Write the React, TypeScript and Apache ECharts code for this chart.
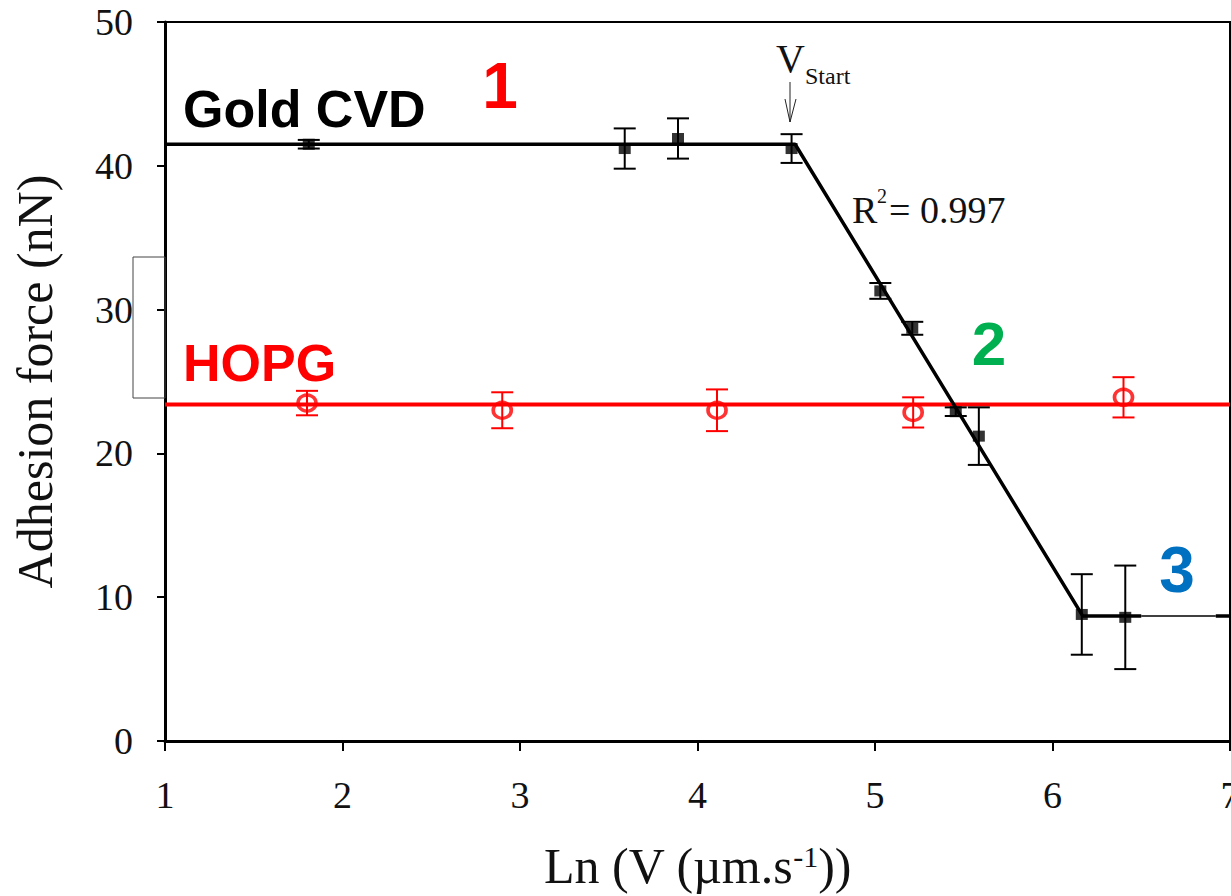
import React, { useEffect, useRef } from "react";
import * as echarts from "echarts";

// Gold CVD measurements (black squares)
const goldX = [1.81, 3.59, 3.89, 4.53, 5.03, 5.21, 5.455, 5.585, 6.165, 6.41];
const goldY = [41.5, 41.2, 41.9, 41.2, 31.3, 28.7, 22.9, 21.2, 8.8, 8.6];
const goldErr = [0.3, 1.4, 1.4, 1.0, 0.55, 0.45, 0.3, 2.0, 2.8, 3.6];

// HOPG measurements (red open circles)
const hopgX = [1.8, 2.9, 4.11, 5.215, 6.4];
const hopgY = [23.5, 23.0, 23.0, 22.85, 23.9];
const hopgErr = [0.85, 1.25, 1.45, 1.05, 1.4];

// Fit lines
const goldFitX = [1, 4.55, 6.17, 6.5];
const goldFitY = [41.5, 41.5, 8.7, 8.7];
const goldThinX = [6.5, 6.92];
const goldThinY = [8.7, 8.7];
const goldEndX = [6.92, 7];
const goldEndY = [8.7, 8.7];
const hopgFitX = [1, 7];
const hopgFitY = [23.4, 23.4];

const SERIF = "'Liberation Serif', 'Times New Roman', serif";
const SANS = "'Liberation Sans', Arial, sans-serif";

const zip = (xs: number[], ys: number[]) => xs.map((x, i) => [x, ys[i]]);
const zip3 = (xs: number[], ys: number[], es: number[]) => xs.map((x, i) => [x, ys[i], es[i]]);

function errRender(color: string, capHalf: number) {
  return (params: any, api: any) => {
    const x = api.value(0);
    const y = api.value(1);
    const e = api.value(2);
    const t = api.coord([x, y + e]);
    const b = api.coord([x, y - e]);
    const style = { stroke: color, lineWidth: 2, fill: null };
    return {
      type: "group",
      children: [
        { type: "line", shape: { x1: t[0], y1: t[1], x2: b[0], y2: b[1] }, style },
        { type: "line", shape: { x1: t[0] - capHalf, y1: t[1], x2: t[0] + capHalf, y2: t[1] }, style },
        { type: "line", shape: { x1: b[0] - capHalf, y1: b[1], x2: b[0] + capHalf, y2: b[1] }, style },
      ],
    };
  };
}

export default function App() {
  const ref = useRef<HTMLDivElement>(null);
  useEffect(() => {
    if (!ref.current) return;
    const chart = echarts.init(ref.current, null, { renderer: "svg" });
    chart.setOption({
      animation: false,
      backgroundColor: "#fff",
      grid: {
        left: 165,
        right: 1,
        top: 22,
        bottom: 155,
        show: true,
        borderColor: "#000",
        borderWidth: 2,
        containLabel: false,
        outerBoundsMode: "none",
      },
      xAxis: {
        type: "value",
        min: 1,
        max: 7,
        interval: 1,
        name: "Ln (V (µm.s{sup|-1}))",
        nameLocation: "middle",
        nameGap: 100,
        nameTextStyle: {
          fontFamily: SERIF,
          fontSize: 50,
          color: "#111",
          rich: {
            sup: { fontFamily: SERIF, fontSize: 30, color: "#111", verticalAlign: "top", padding: [0, 0, 18, 0] },
          },
        },
        axisLine: { lineStyle: { color: "#000", width: 3 } },
        axisTick: { inside: false, length: 10, lineStyle: { color: "#000", width: 2 } },
        axisLabel: { fontFamily: SERIF, fontSize: 38, color: "#111", margin: 35 },
        splitLine: { show: false },
      },
      yAxis: {
        type: "value",
        min: 0,
        max: 50,
        interval: 10,
        name: "Adhesion force (nN)",
        nameLocation: "middle",
        nameGap: 105,
        nameTextStyle: { fontFamily: SERIF, fontSize: 50, color: "#111" },
        axisLine: { lineStyle: { color: "#000", width: 3 } },
        axisTick: { inside: false, length: 8, lineStyle: { color: "#000", width: 2 } },
        axisLabel: { fontFamily: SERIF, fontSize: 38, color: "#111", margin: 32 },
        splitLine: { show: false },
      },
      series: [
        {
          name: "HOPG fit",
          type: "line",
          data: zip(hopgFitX, hopgFitY),
          symbol: "none",
          lineStyle: { color: "#ff0000", width: 4 },
          z: 2,
        },
        {
          name: "Gold fit",
          type: "line",
          data: zip(goldFitX, goldFitY),
          symbol: "none",
          lineStyle: { color: "#000", width: 3.5 },
          z: 3,
        },
        {
          name: "Gold fit thin",
          type: "line",
          data: zip(goldThinX, goldThinY),
          symbol: "none",
          lineStyle: { color: "#000", width: 1.5 },
          z: 3,
        },
        {
          name: "Gold fit end",
          type: "line",
          data: zip(goldEndX, goldEndY),
          symbol: "none",
          lineStyle: { color: "#000", width: 3.5 },
          z: 3,
        },
        {
          name: "HOPG err",
          type: "custom",
          renderItem: errRender("#ff0000", 11),
          data: zip3(hopgX, hopgY, hopgErr),
          encode: { x: 0, y: 1 },
          z: 4,
        },
        {
          name: "Gold err",
          type: "custom",
          renderItem: errRender("#000", 11),
          data: zip3(goldX, goldY, goldErr),
          encode: { x: 0, y: 1 },
          z: 4,
        },
        {
          name: "HOPG",
          type: "scatter",
          data: zip(hopgX, hopgY),
          symbol: "circle",
          symbolSize: [18, 16],
          itemStyle: { color: "rgba(0,0,0,0)", borderColor: "#ff0000", borderWidth: 3.5 },
          z: 5,
        },
        {
          name: "Gold CVD",
          type: "scatter",
          data: zip(goldX, goldY),
          symbol: "rect",
          symbolSize: [12, 11],
          itemStyle: { color: "#000" },
          z: 5,
        },
      ],
      graphic: [
        {
          type: "rect",
          shape: { x: 133, y: 257, width: 32, height: 141 },
          style: { fill: "rgba(0,0,0,0)", stroke: "#444", lineWidth: 1 },
          z: 1,
        },
        {
          type: "text",
          x: 183,
          y: 109,
          style: { text: "Gold CVD", font: `bold 52px ${SANS}`, fill: "#000", verticalAlign: "middle", align: "left" },
        },
        {
          type: "text",
          x: 183,
          y: 363,
          style: { text: "HOPG", font: `bold 52px ${SANS}`, fill: "#ff0000", verticalAlign: "middle", align: "left" },
        },
        {
          type: "text",
          x: 500,
          y: 86,
          style: { text: "1", font: `bold 64px ${SANS}`, fill: "#ff0000", verticalAlign: "middle", align: "center" },
        },
        {
          type: "text",
          x: 989,
          y: 343,
          style: { text: "2", font: `bold 62px ${SANS}`, fill: "#00b050", verticalAlign: "middle", align: "center" },
        },
        {
          type: "text",
          x: 1177,
          y: 570,
          style: { text: "3", font: `bold 64px ${SANS}`, fill: "#0070c0", verticalAlign: "middle", align: "center" },
        },
        {
          type: "text",
          x: 776,
          y: 58,
          style: { text: "V", font: `40px ${SERIF}`, fill: "#111", verticalAlign: "middle", align: "left" },
        },
        {
          type: "text",
          x: 805,
          y: 76,
          style: { text: "Start", font: `24px ${SERIF}`, fill: "#111", verticalAlign: "middle", align: "left" },
        },
        {
          type: "line",
          shape: { x1: 790, y1: 82, x2: 790, y2: 122 },
          style: { stroke: "#222", lineWidth: 1 },
        },
        {
          type: "polyline",
          shape: { points: [[785, 99], [790, 122], [796, 99]] },
          style: { stroke: "#222", lineWidth: 1, fill: null },
        },
        {
          type: "text",
          x: 852,
          y: 210,
          style: { text: "R", font: `38px ${SERIF}`, fill: "#111", verticalAlign: "middle", align: "left" },
        },
        {
          type: "text",
          x: 877,
          y: 196,
          style: { text: "2", font: `20px ${SERIF}`, fill: "#111", verticalAlign: "middle", align: "left" },
        },
        {
          type: "text",
          x: 889,
          y: 210,
          style: { text: "= 0.997", font: `38px ${SERIF}`, fill: "#111", verticalAlign: "middle", align: "left" },
        },
      ],
    });
    return () => chart.dispose();
  }, []);
  return (
    <div
      ref={ref}
      style={{ position: "fixed", left: 0, top: 0, width: 1231, height: 896, background: "#fff" }}
    />
  );
}
